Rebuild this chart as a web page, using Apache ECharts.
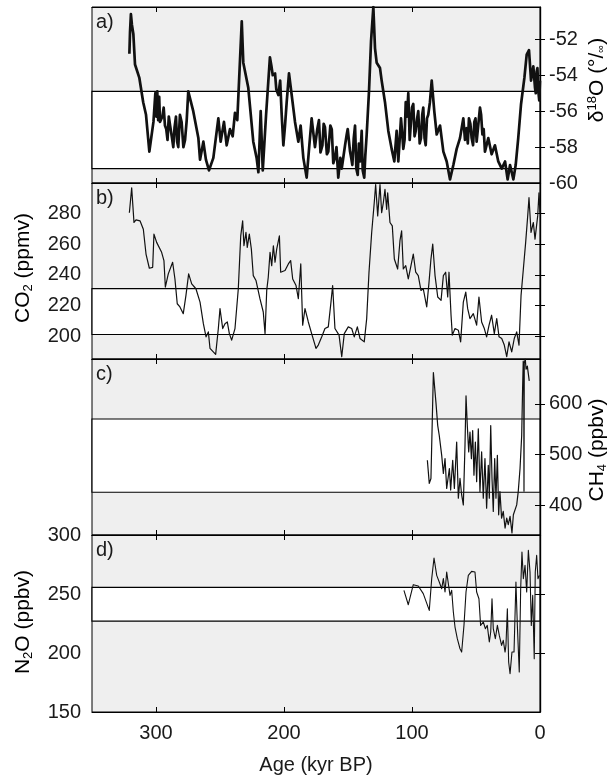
<!DOCTYPE html>
<html>
<head>
<meta charset="utf-8">
<script src="https://cdn.jsdelivr.net/npm/echarts@6/dist/echarts.min.js"></script>
<style>
html, body { margin: 0; padding: 0; background: #ffffff; }
#chart { width: 611px; height: 777px; }
</style>
</head>
<body>
<div id="chart"></div>
<script>
// ---- Vostok ice-core records, age in kyr BP ----
const d18oAge = [320.8,320.3,319.6,318.8,317.7,316.4,313,310,307.8,305.2,302,300.5,299.8,299,298.3,297.5,296.9,295,294,293,292,291,290,289,287.7,286.5,285.5,284.4,283.5,282.6,281.3,280,278.6,277.3,276,274.8,270.9,266.9,265.6,263,261,258.6,255.2,251.3,249.5,246.9,244.8,242.2,240.1,238.3,236.5,233,231.8,227.9,224,221.4,220,218.2,216.6,214,211,209.8,208.8,207,206,204.4,203,201.8,200.5,199.2,197.9,196.1,194,191.4,188.8,187,184.9,182.3,180.2,178.4,175.8,174,172.7,171.5,170,169,168,166.5,165.4,163.8,162.7,161.5,160.2,159,157.6,156,154.9,153.5,152.3,151,150.2,148.4,147.5,146.6,145.5,144.5,143.5,142.4,141.5,140.6,139.3,138.5,137.3,136.5,135.4,133.6,132,130.2,128.9,127.6,125,123.7,121.1,118.5,115.9,113.8,112,110.7,108.6,107.7,106.8,105.8,104.9,103.9,102.9,101.8,100.8,100,99,98,97.1,96,95.1,94,93,92,91.2,90.2,89.3,88.3,87.3,86,84.6,82.6,80.7,78.1,75.5,72.9,70.3,67.7,65.1,62.5,59.9,58.6,57.3,56.4,55.5,54.4,53.4,52.3,51.3,50.4,49.5,48.2,46.9,46,45,44,43,40.4,37.8,35.2,32.6,29.9,27.3,25.3,23.4,20.8,19,17,14.8,12.2,10.4,8.6,7,5.2,4.5,3.9,3.3,2.6,2,1.3,0.6,0];
const d18oVal = [-52.8,-51.6,-50.6,-51.2,-51.7,-53.4,-54.15,-55.5,-56.2,-58.25,-56.6,-55.0,-56.3,-54.9,-56.5,-55.2,-56.6,-56.3,-55.8,-56.8,-57.0,-57.6,-56.3,-56.8,-57.4,-58.0,-56.9,-56.3,-57.7,-58.0,-56.2,-56.6,-58.0,-57.6,-56.5,-54.9,-56.0,-57.5,-58.7,-57.7,-58.7,-59.3,-58.6,-56.4,-57.7,-56.6,-57.9,-57.0,-57.4,-56.1,-56.5,-51.0,-53.3,-54.7,-57.7,-58.6,-59.4,-56.0,-59.3,-56.2,-53.0,-53.5,-54.0,-53.9,-54.8,-55.1,-54.3,-56.2,-57.9,-56.8,-55.5,-53.9,-55.1,-56.6,-57.7,-56.8,-58.6,-59.7,-57.9,-56.4,-58.0,-57.0,-56.5,-58.3,-57.9,-56.7,-56.9,-58.4,-58.25,-56.8,-57.0,-58.9,-58.6,-58.0,-59.7,-58.6,-59.2,-58.5,-57.9,-57.3,-57.0,-58.25,-58.6,-59.0,-57.5,-56.8,-59.2,-59.55,-57.8,-58.8,-57.1,-59.3,-59.7,-58.5,-57.3,-54.9,-52.1,-50.2,-52.5,-53.3,-53.6,-54.3,-55.5,-57.1,-58.1,-58.8,-57.1,-58.8,-56.4,-57.2,-58.1,-57.6,-55.5,-56.3,-55.0,-57.6,-56.6,-55.8,-55.6,-57.4,-57.1,-56.4,-56.0,-57.8,-57.5,-56.2,-55.8,-57.5,-57.9,-56.4,-56.2,-55.5,-54.3,-56.0,-57.3,-56.8,-58.25,-58.8,-59.8,-59.0,-58.1,-57.5,-56.4,-57.6,-56.95,-57.8,-56.4,-56.7,-57.5,-57.9,-56.6,-56.4,-57.7,-57.8,-55.8,-56.2,-57.3,-57.0,-58.25,-57.5,-58.4,-57.9,-58.8,-59.2,-58.8,-59.8,-59.0,-59.8,-59.0,-57.5,-55.6,-54.15,-52.85,-52.6,-54.3,-53.5,-53.6,-54.7,-55.0,-53.8,-53.6,-54.9,-55.4,-54.3];

const co2Age = [320.8,319,317.2,315.6,312.5,309.9,307.8,305.2,302.6,301.6,299.5,295.6,293.8,292.7,290.4,287,285.2,283.4,281.3,278.7,276.6,274.5,272.1,268.8,265.6,263,260.9,259.1,257.8,253.4,251.3,250,247.9,246.1,244.3,242.7,240.9,238.3,235.7,233.8,232.3,231.3,229.7,228.7,227.1,225.5,224,221.9,218.8,216.2,214.8,213.5,212.3,210.9,209.6,208.3,207,205.7,203.6,202.6,199.2,196.6,194.8,193.2,190.6,188.8,186.9,185.4,183.6,181,178.4,175,173.2,170.5,168,165.4,163.3,162,160.2,157,154.9,152.9,149.8,147.1,145.1,142.7,140.6,137.3,135.4,133.6,131.5,129.5,128.4,126.8,125,123.7,122.4,121.1,119.8,119,117.2,115.4,113.8,111.2,109.4,108.1,106.8,104.9,102.9,100.8,99,97.1,95.1,93,91.2,88.5,86.7,85.2,83.8,82,79.9,77.3,75.5,73.7,72.1,71.1,69.5,68.5,66.4,63.8,62,59.9,58,56.5,54.7,52.1,49.5,47.7,45.6,43.5,41.7,39.8,37.8,35.7,33.8,32,29.9,27.9,26,24.2,22.1,20.1,18.2,16.4,14.8,13,11.2,9.6,8.6,7,5.2,3.9,1.8,0.8,0];
const co2Val = [280.6,296.9,274.2,275.9,275.3,269.8,253.6,244.3,244.9,266.6,261.2,254.7,249.3,232.0,240.6,248.2,237.3,221.1,219.0,214.6,226.6,240.6,234.1,230.9,222.2,208.1,199.5,202.7,191.9,188.0,204.9,217.9,204.9,208.1,209.2,201.6,197.3,204.9,230.9,265.5,275.3,259.0,267.7,257.9,266.6,256.8,239.5,236.3,224.4,215.7,201.6,229.8,238.4,254.7,246.0,259.0,248.2,256.8,265.5,241.7,242.8,247.1,249.3,237.3,233.0,224.4,247.1,207.1,217.9,209.2,201.6,191.9,194.1,199.5,204.9,206.0,222.2,233.0,204.9,200.6,186.5,201.6,206.0,204.9,199.5,206.0,198.4,196.2,211.4,241.7,267.7,287.1,299,278.5,299,280.6,287.1,295.8,282.8,293.6,274.2,272.0,250.3,243.8,262.3,268.8,243.8,246.0,237.3,246.0,253.6,241.7,239.5,229.8,230.9,219.0,235.2,250.3,260.1,239.5,225.5,223.3,239.5,241.7,225.5,241.7,213.6,200.6,204.9,203.8,196.2,222.2,228.7,217.9,211.4,214.6,207.1,225.5,209.2,204.9,199.5,207.1,213.6,201.6,211.4,199.5,198.4,194.1,186.5,196.2,189.7,198.4,202.7,194.1,226.6,243.8,261.2,278.5,290.4,267.7,274.2,263.3,278.5,293.6,280.6];

const ch4Age = [88,86.5,85.2,83.3,81.3,79.9,78.7,76.8,75.5,74.2,72.9,70.8,69.8,68.2,66.9,65.1,63.8,62.5,61.2,59.9,58.6,57.8,56.8,55.7,54.7,53.6,52.6,51.6,50.5,49.5,48.2,46.9,45.6,44.3,43,41.7,40.4,39.6,38.5,37.5,36.5,35.4,34.4,33.3,32.3,31.3,30,28.7,27.3,26,24.8,23.4,21.9,20.8,19.3,18.2,17,15.6,14.3,13.6,13.1,12.7,12.5,12.3,11.5,10.9,9.9,8.4];
const ch4Val = [488.9,443.5,453.2,661.2,602.7,557.1,537.6,498.6,463.0,492.2,433.7,472.7,430.4,488.9,433.7,524.8,414.2,453.2,420.7,401.2,518.1,615.6,557.1,505.3,544.2,492.2,547.4,459.6,524.8,446.8,550.7,427.3,505.3,414.2,492.2,394.7,479.1,414.2,557.1,453.2,388.3,492.2,414.2,498.6,381.7,427.3,375.2,388.3,355.7,375.2,362.2,378.5,346,381.7,385,401.2,427.3,472.7,537.6,630,684,665,428,680,688,668,674,645];

const n2oAge = [106.3,102.9,99,95.1,91.2,86.5,84.6,82.8,80.7,78.7,76.8,75.5,74.2,72.9,71.6,70.3,69,67.7,66.4,64.6,62.5,61.2,59.4,57.8,56,53.4,50.8,49.5,47.7,46.4,44.3,42.7,41.2,39.6,38.5,37.5,36.5,34.9,33.3,31.8,30,28.7,27.3,26.6,25.5,24.5,23.4,21.9,20.3,18.8,17.7,16.2,15.1,14.1,13,11.7,10.4,9.1,7.8,6.8,5.7,4.5,3.7,2.6,1.6,0.5];
const n2oVal = [253,240.9,257.9,256.8,250.3,236.1,263.0,280.5,265.8,260.2,254.5,263.0,251.7,268.6,267.2,248.8,253.1,234.7,222.0,212.1,203.6,200.8,223.4,251.7,265.8,269.2,268.6,251.7,246.0,223.4,226.3,220.6,223.4,209.3,217.8,246.0,220.6,212.1,223.4,214.9,206.4,210.7,200.8,206.4,237.5,192.4,182.5,200.8,200.8,260.2,223.4,183.9,254.5,285.6,263.0,274.3,251.7,287.0,268.6,223.4,248.8,195.2,268.6,282.7,263.0,265.8];

// reference bands (lower, upper) for each record
const bandD18O = [-59.2, -54.9];
const bandCO2 = [201, 231];
const bandCH4 = [426, 570];
const bandN2O = [227, 255.6];

// tick labels
const ageLabels = [0, 100, 200, 300];
const ageTicks = [100, 200, 300];
const d18oLabels = [-52, -54, -56, -58, -60];
const d18oTicks = [-52, -54, -56, -58];
const co2Labels = [200, 220, 240, 260, 280];
const ch4Labels = [400, 500, 600];
const n2oLabels = [150, 200, 250, 300];
const n2oTicks = [200, 250];

const FONT = "'Liberation Sans', Arial, Helvetica, sans-serif";
const PLOT_LEFT = 92, PLOT_W = 448;

const panels = [
  { top: 7,   height: 176, min: -60, max: -50.2, labelSide: 'right', labels: d18oLabels, ticks: d18oTicks,
    age: d18oAge, val: d18oVal, band: bandD18O, width: 2.7, tag: 'a)' },
  { top: 183, height: 176, min: 185, max: 300, labelSide: 'left', labels: co2Labels, ticks: co2Labels,
    age: co2Age, val: co2Val, band: bandCO2, width: 1.2, tag: 'b)' },
  { top: 359, height: 176, min: 342, max: 688, labelSide: 'right', labels: ch4Labels, ticks: ch4Labels,
    age: ch4Age, val: ch4Val, band: bandCH4, width: 1.2, tag: 'c)' },
  { top: 535, height: 177, min: 150, max: 300, labelSide: 'left', labels: n2oLabels, ticks: n2oTicks,
    age: n2oAge, val: n2oVal, band: bandN2O, width: 1.1, tag: 'd)' }
];

const grid = [], xAxis = [], yAxis = [], series = [], graphic = [];
const frameLine = { show: true, lineStyle: { color: '#000', width: 1.2 } };

panels.forEach((p, i) => {
  grid.push({
    left: PLOT_LEFT, width: PLOT_W, top: p.top, height: p.height,
    show: true, backgroundColor: '#efefef', borderColor: '#000', borderWidth: 1
  });
  ['bottom', 'top'].forEach(pos => {
    const isBottomLabels = (pos === 'bottom' && i === 3);
    xAxis.push({
      type: 'value', gridIndex: i, position: pos, inverse: true, min: 0, max: 350, z: 3,
      axisLine: frameLine,
      axisTick: { show: true, inside: true, length: 5, customValues: ageTicks, lineStyle: { color: '#000', width: 1 } },
      axisLabel: {
        show: isBottomLabels, customValues: ageLabels, margin: 11,
        fontFamily: FONT, fontSize: 20, color: '#1a1a1a'
      },
      splitLine: { show: false },
      name: isBottomLabels ? 'Age (kyr BP)' : '',
      nameLocation: 'middle', nameGap: 43,
      nameTextStyle: { fontFamily: FONT, fontSize: 20, color: '#1a1a1a' }
    });
  });
  ['left', 'right'].forEach(side => {
    const withLabels = side === p.labelSide;
    yAxis.push({
      type: 'value', gridIndex: i, position: side, min: p.min, max: p.max, z: 3,
      axisLine: frameLine,
      axisTick: { show: true, inside: true, length: 5, customValues: p.ticks, lineStyle: { color: '#000', width: 1 } },
      axisLabel: {
        show: withLabels, customValues: p.labels, margin: side === 'left' ? 11 : 9,
        fontFamily: FONT, fontSize: 20, color: '#1a1a1a'
      },
      splitLine: { show: false }
    });
  });

  // white reference band with its bounding lines
  series.push({
    type: 'line', xAxisIndex: 2 * i, yAxisIndex: 2 * i, data: [], z: 1, silent: true,
    markArea: {
      silent: true,
      itemStyle: { color: '#ffffff', borderColor: '#000', borderWidth: 1.2 },
      data: [[{ yAxis: p.band[0] }, { yAxis: p.band[1] }]]
    }
  });
  // record curve
  series.push({
    type: 'line', xAxisIndex: 2 * i, yAxisIndex: 2 * i, z: 4,
    data: p.age.map((a, k) => [a, p.val[k]]),
    showSymbol: false, symbol: 'none', clip: true,
    lineStyle: { color: '#111', width: p.width, join: 'round' }
  });

  graphic.push({
    type: 'text', left: 96, top: p.top + 5, z: 10,
    style: { text: p.tag, font: '20px ' + FONT, fill: '#1a1a1a' }
  });
});

// axis titles with sub/superscripts
const rich = {
  t: { fontFamily: FONT, fontSize: 21, color: '#1a1a1a' },
  sub: { fontFamily: FONT, fontSize: 13, color: '#1a1a1a', padding: [10, 0, 0, 0] },
  sup: { fontFamily: FONT, fontSize: 13, color: '#1a1a1a', padding: [0, 0, 10, 0] },
  sm: { fontFamily: FONT, fontSize: 11, color: '#1a1a1a', padding: [8, 0, 0, 0] }
};
function title(text, x, y) {
  return {
    type: 'text', x: x, y: y, rotation: Math.PI / 2, z: 10,
    style: { text: text, rich: rich, align: 'center', verticalAlign: 'middle' }
  };
}
graphic.push(title('{t|CO}{sub|2}{t| (ppmv)}', 23, 268));
graphic.push(title('{t|N}{sub|2}{t|O (ppbv)}', 23, 622));
graphic.push(title('{t|δ}{sup|18}{t|O (°/}{sm|∞}{t|)}', 597, 80));
graphic.push(title('{t|CH}{sub|4}{t| (ppbv)}', 597, 450));

const chart = echarts.init(document.getElementById('chart'), null, { renderer: 'canvas' });
chart.setOption({
  animation: false,
  backgroundColor: '#ffffff',
  grid: grid,
  xAxis: xAxis,
  yAxis: yAxis,
  series: series,
  graphic: graphic
});
</script>
</body>
</html>
